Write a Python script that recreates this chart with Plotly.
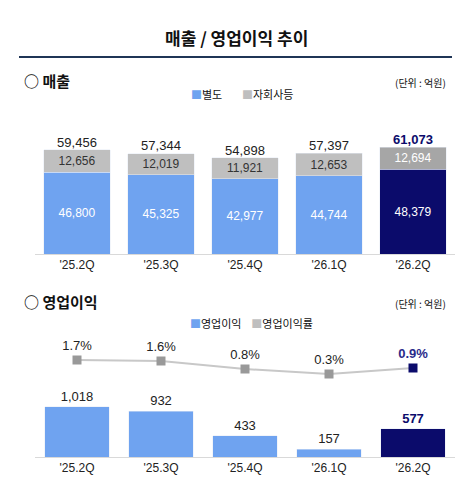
import plotly.graph_objects as go

quarters = ["'25.2Q", "'25.3Q", "'25.4Q", "'26.1Q", "'26.2Q"]
separate = [46800, 45325, 42977, 44744, 48379]
subsidiaries = [12656, 12019, 11921, 12653, 12694]
sales_total = [59456, 57344, 54898, 57397, 61073]
op_profit = [1018, 932, 433, 157, 577]
op_margin = [1.7, 1.6, 0.8, 0.3, 0.9]

BLUE = "#6fa3f0"
GRAY = "#bfbfbf"
NAVY = "#0b0b6b"
FONT = "Liberation Sans, Noto Sans CJK KR"
OFF = 8  # page body margin in px

blue_cols = [BLUE] * 4 + [NAVY]
gray_cols = [GRAY] * 4 + ["#a6a6a6"]
dark = ["#222"] * 4 + [NAVY]

fig = go.Figure()

# sales (top)
fig.add_trace(go.Bar(x=quarters, y=separate, marker_color=blue_cols, width=0.79,
                     text=[f"{v:,}" for v in separate], textposition="inside",
                     insidetextanchor="middle",
                     textfont=dict(color="white", size=12, family=FONT),
                     xaxis="x", yaxis="y"))
fig.add_trace(go.Bar(x=quarters, y=subsidiaries, marker_color=gray_cols, width=0.79,
                     text=[f"{v:,}" for v in subsidiaries], textposition="inside",
                     insidetextanchor="middle",
                     textfont=dict(color=["#333"] * 4 + ["white"], size=12, family=FONT),
                     xaxis="x", yaxis="y"))
fig.add_trace(go.Scatter(x=quarters, y=sales_total, mode="text",
                         text=[f"{v:,}" if i < 4 else f"<b>{v:,}</b>" for i, v in enumerate(sales_total)],
                         textposition="top center",
                         textfont=dict(color=dark, size=13, family=FONT),
                         xaxis="x", yaxis="y", cliponaxis=False))

# operating profit (bottom)
fig.add_trace(go.Bar(x=quarters, y=op_profit, marker_color=blue_cols, width=0.77,
                     text=[f"{v:,}" if i < 4 else f"<b>{v:,}</b>" for i, v in enumerate(op_profit)],
                     textposition="outside", cliponaxis=False,
                     textfont=dict(color=dark, size=13, family=FONT),
                     xaxis="x2", yaxis="y2"))
fig.add_trace(go.Scatter(x=quarters, y=op_margin, mode="lines+markers+text",
                         line=dict(color="#c8c8c8", width=2),
                         marker=dict(symbol="square", size=9, color=["#999999"] * 4 + [NAVY]),
                         text=[f"{v}%" if i < 4 else f"<b>{v}%</b>" for i, v in enumerate(op_margin)],
                         textposition="top center",
                         textfont=dict(color=["#222"] * 4 + ["#2a2a8a"], size=13, family=FONT),
                         xaxis="x3", yaxis="y3", cliponaxis=False))


def py(px):
    return 1 - (px - OFF) / 500


def pxx(px):
    return (px - OFF) / 472


xdom = [pxx(35), pxx(455)]
fig.update_layout(
    width=472, height=500, margin=dict(l=0, r=0, t=0, b=0),
    paper_bgcolor="white", plot_bgcolor="white",
    barmode="stack", showlegend=False,
    font=dict(family=FONT, color="#222"),
    xaxis=dict(domain=xdom, anchor="y", showline=True, linecolor="#d9d9d9",
               tickfont=dict(size=12), ticks="", showgrid=False),
    yaxis=dict(domain=[py(254), py(140)], range=[0, 65070], visible=False),
    xaxis2=dict(domain=xdom, anchor="y2", showline=True, linecolor="#d9d9d9",
                tickfont=dict(size=12), ticks="", showgrid=False),
    yaxis2=dict(domain=[py(457), py(400)], range=[0, 1160], visible=False),
    xaxis3=dict(domain=xdom, anchor="y3", visible=False, matches="x2"),
    yaxis3=dict(domain=[py(400), py(300)], range=[-2.3, 7.7], visible=False),
)


def ann(text, x, y, size, xanchor="center", color="#111"):
    fig.add_annotation(text=text, x=pxx(x), y=py(y), xref="paper", yref="paper",
                       xanchor=xanchor, yanchor="middle", showarrow=False,
                       font=dict(size=size, color=color, family="Noto Sans CJK KR"))


ann("<b>매출 / 영업이익 추이</b>", 236, 37, 17)
fig.add_shape(type="line", xref="paper", yref="paper", x0=pxx(19), x1=pxx(452),
              y0=py(57), y1=py(57), line=dict(color="#1f3556", width=2))
ann("<b>○ 매출</b>", 22, 80, 15, "left")
ann("(단위 : 억원)", 448, 82, 10, "right")
ann(f"<span style='color:{BLUE}'>■</span>별도        <span style='color:{GRAY}'>■</span>자회사등",
    242, 94, 11)
ann("<b>○ 영업이익</b>", 22, 301, 15, "left")
ann("(단위 : 억원)", 448, 303, 10, "right")
ann(f"<span style='color:{BLUE}'>■</span>영업이익    <span style='color:{GRAY}'>■</span>영업이익률",
    252, 323, 11)

fig.write_html("out.html")
